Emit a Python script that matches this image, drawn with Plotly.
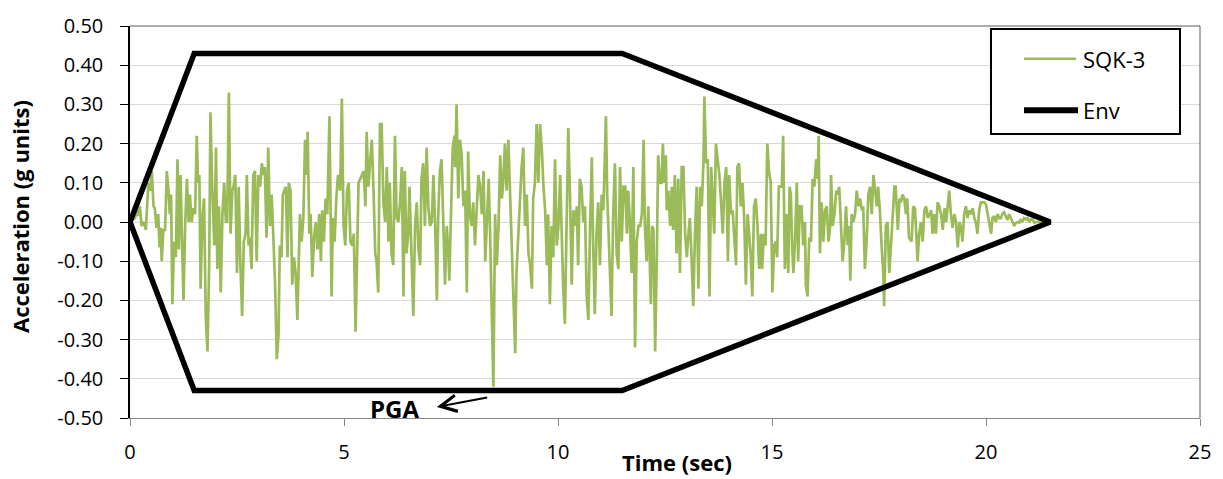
import plotly.graph_objects as go

# ---------------- data ----------------
seg1_t = [0.00,0.06,0.12,0.16,0.19,0.23,0.27,0.33,0.37,0.43,
          0.47,0.51,0.55,0.58,0.62,0.66,0.69,0.72,0.74,0.78,
          0.82,0.86,0.90,0.93,0.96,0.99,1.03,1.07,1.11,1.14,
          1.18,1.22,1.25,1.29,1.33,1.37,1.40,1.44,1.48,1.52,
          1.56,1.59,1.62,1.65,1.69,1.73,1.77,1.81,1.85,1.88,
          1.92,1.97,2.01,2.04,2.08,2.12,2.16,2.20,2.24,2.27,
          2.31,2.35,2.39,2.42,2.46,2.50,2.54,2.58,2.62,2.66,
          2.70,2.73,2.77]
seg1_a = [0.00,0.005,0.01,0.04,0.015,0.04,-0.01,0.00,-0.02,0.10,
          0.08,0.13,0.04,0.035,-0.015,0.02,-0.065,-0.015,-0.10,-0.02,
          -0.02,0.13,0.08,0.02,0.07,-0.21,-0.05,-0.09,0.16,-0.07,
          0.12,-0.07,-0.20,-0.005,0.11,0.00,0.07,0.00,0.035,0.02,
          0.22,0.10,0.12,-0.17,0.01,0.06,-0.24,-0.33,-0.11,0.28,
          0.09,-0.06,0.19,-0.12,0.04,-0.18,0.02,0.10,0.00,0.00,
          0.33,-0.03,0.08,0.09,0.12,-0.13,0.09,-0.11,-0.24,-0.05,
          -0.03,0.12,-0.06]

seg2_t = [2.80,2.84,2.88,2.92,2.96,3.00,3.04,3.08,3.12,3.15,
          3.19,3.23,3.27,3.31,3.35,3.39,3.43,3.47,3.50,3.54,
          3.57,3.61,3.64,3.68,3.71,3.75,3.79,3.83,3.87,3.91,
          3.95,3.97,4.01,4.05,4.09,4.13,4.15,4.19,4.22,4.26,
          4.30,4.34,4.38,4.42,4.46,4.49,4.53,4.57,4.61,4.66,
          4.71,4.74,4.78,4.82,4.86,4.91,4.95,4.99,5.03,5.07,
          5.11,5.15,5.19,5.23,5.27,5.31,5.34,5.38,5.42,5.46,
          5.50,5.53,5.57,5.61,5.65,5.69,5.73,5.76,5.80,5.84,
          5.88,5.92,5.96,6.00,6.04,6.07]
seg2_a = [-0.04,-0.12,0.12,0.13,-0.10,0.12,0.09,0.15,0.12,0.14,
          -0.04,0.19,-0.01,0.07,-0.04,-0.16,-0.35,-0.29,-0.06,-0.09,
          0.07,0.08,0.09,-0.09,0.10,0.08,-0.16,-0.09,-0.13,-0.25,
          -0.05,0.02,-0.05,0.01,0.21,0.12,0.23,-0.03,0.02,-0.14,
          -0.04,0.00,-0.07,0.02,-0.10,0.03,-0.05,0.06,0.02,0.27,
          -0.19,0.01,-0.05,0.06,0.12,0.08,0.315,-0.01,-0.06,0.08,
          0.10,-0.05,-0.06,-0.03,-0.28,-0.01,0.10,0.11,0.12,0.13,
          0.04,0.23,0.09,0.14,0.21,0.08,-0.08,-0.10,-0.18,0.25,
          0.25,0.05,0.00,0.14,-0.05,0.10]

seg3_t = [6.11,6.15,6.19,6.23,6.27,6.31,6.35,6.39,6.42,6.46,
          6.50,6.53,6.58,6.62,6.66,6.70,6.74,6.78,6.81,6.85,
          6.89,6.93,6.97,7.01,7.05,7.09,7.13,7.17,7.20,7.24,
          7.28,7.32,7.36,7.40,7.44,7.46,7.50,7.54,7.58,7.60,
          7.63,7.67,7.71,7.75,7.79,7.83,7.87,7.90,7.94,7.98,
          8.02,8.06,8.10,8.14,8.18,8.22,8.26,8.30,8.34,8.38,
          8.41,8.45,8.49,8.53,8.57,8.61,8.65,8.69,8.72,8.76,
          8.80,8.84,8.88,8.92,8.96,9.00,9.03,9.07,9.11]
seg3_a = [-0.08,-0.11,0.22,0.01,0.00,0.05,0.14,-0.19,0.13,-0.08,
          -0.03,0.09,-0.11,-0.24,-0.01,0.05,-0.07,-0.11,0.11,0.15,
          -0.01,0.19,0.04,-0.01,0.00,0.12,-0.01,-0.20,0.01,0.13,
          0.16,0.02,-0.16,-0.01,-0.08,-0.15,-0.01,0.19,0.22,0.14,
          0.30,0.06,0.21,0.17,0.04,0.08,-0.18,0.18,0.02,-0.01,
          0.05,-0.06,0.03,0.12,0.09,0.02,0.13,-0.10,0.00,0.11,
          -0.01,-0.21,-0.42,0.02,-0.11,-0.01,0.17,0.06,0.10,0.20,
          0.08,0.21,0.07,-0.10,-0.18,-0.335,-0.13,-0.04,0.02]

seg4_t = [9.15,9.19,9.23,9.27,9.31,9.35,9.39,9.42,9.46,9.50,
          9.54,9.58,9.62,9.66,9.70,9.74,9.77,9.81,9.85,9.89,
          9.93,9.97,10.01,10.05,10.09,10.12,10.16,10.20,10.24,10.28,
          10.32,10.36,10.40,10.44,10.47,10.51,10.55,10.59,10.63,10.67,
          10.71,10.75,10.79,10.82,10.86,10.90,10.94,10.98,11.02,11.06,
          11.10,11.12,11.15,11.18,11.21,11.25,11.29,11.33,11.37,11.41,
          11.45,11.49,11.53,11.57,11.61,11.64,11.68,11.72,11.76,11.80,
          11.84,11.88,11.92,11.96,12.00,12.03,12.07,12.11]
seg4_a = [0.14,0.19,-0.01,0.07,-0.08,-0.11,-0.17,0.06,0.10,0.25,
          0.10,0.25,0.19,0.09,0.03,-0.11,0.02,-0.21,-0.01,-0.09,
          0.16,-0.06,-0.01,0.12,-0.07,-0.16,-0.26,-0.01,0.24,0.07,
          -0.16,0.03,-0.01,0.04,-0.11,0.11,0.09,0.00,0.04,-0.19,
          -0.25,-0.01,0.165,-0.05,-0.235,-0.03,0.05,-0.11,0.07,0.03,
          0.21,0.27,0.07,-0.02,-0.11,-0.24,0.02,0.15,-0.08,-0.12,
          0.14,-0.05,0.09,0.09,-0.03,0.08,0.00,-0.13,0.14,-0.32,
          -0.05,-0.01,-0.01,0.02,0.21,-0.01,-0.10,0.04]

seg5_t = [12.17,12.20,12.23,12.27,12.31,12.34,12.38,12.42,12.45,12.48,
          12.52,12.54,12.58,12.62,12.66,12.69,12.73,12.77,12.81,12.85,
          12.89,12.93,12.97,13.01,13.04,13.08,13.12,13.16,13.20,13.24,
          13.28,13.32,13.36,13.40,13.42,13.46,13.50,13.54,13.58,13.61,
          13.65,13.69,13.73,13.77,13.81,13.85,13.89,13.93,13.97,14.00,
          14.04,14.08,14.12,14.16,14.19,14.23,14.27,14.31,14.35,14.39,
          14.43,14.46,14.50,14.54,14.58,14.62,14.66,14.70,14.74,14.77,
          14.81,14.85,14.89,14.93,14.97,15.01,15.05,15.09,15.12,15.16,
          15.19]
seg5_a = [-0.21,-0.01,-0.02,-0.33,-0.08,0.17,0.10,0.10,0.20,0.10,
          0.17,0.03,0.08,-0.01,0.09,-0.02,0.12,-0.08,0.11,-0.13,
          0.14,0.14,-0.03,-0.09,-0.04,0.01,-0.09,-0.215,-0.03,0.09,
          -0.17,0.09,0.04,0.16,0.32,0.15,0.16,-0.19,0.14,0.07,
          -0.03,0.20,0.16,0.12,0.05,-0.03,0.10,0.14,-0.10,0.12,
          0.02,0.03,-0.04,-0.11,0.14,0.15,0.04,0.10,0.01,-0.16,
          0.02,-0.03,-0.08,-0.19,0.04,0.06,-0.01,-0.12,-0.03,-0.12,
          -0.03,-0.06,0.20,0.13,0.10,-0.18,-0.06,-0.05,-0.09,0.09,
          0.09]

seg6_t = [15.23,15.26,15.30,15.34,15.38,15.41,15.44,15.47,15.50,15.54,
          15.58,15.61,15.65,15.69,15.73,15.77,15.79,15.83,15.87,15.91,
          15.95,15.99,16.03,16.07,16.09,16.12,16.16,16.20,16.24,16.28,
          16.32,16.36,16.38,16.42,16.46,16.50,16.53,16.57,16.61,16.65,
          16.69,16.73,16.77,16.80,16.83,16.86,16.90,16.94,16.98,17.02,
          17.06,17.10,17.13,17.17,17.21,17.25,17.29,17.33,17.37,17.41,
          17.45,17.48,17.52,17.56,17.60,17.62,17.66,17.70,17.74,17.78,
          17.82,17.86,17.89,17.94,17.98,18.01,18.05,18.09,18.13,18.16,
          18.20]
seg6_a = [0.09,0.22,-0.12,0.02,-0.13,0.09,0.07,-0.06,-0.13,-0.04,
          0.10,-0.10,0.04,0.04,-0.06,0.00,-0.16,-0.19,-0.04,-0.05,
          0.11,0.09,0.16,0.11,0.22,-0.08,0.05,-0.05,0.03,0.04,
          -0.05,-0.01,0.12,-0.01,0.02,0.08,0.07,0.09,0.01,-0.10,
          -0.05,0.04,-0.06,-0.01,-0.15,0.02,0.00,0.02,0.08,0.04,
          0.06,0.03,0.04,-0.12,-0.05,0.07,0.09,0.02,0.12,0.07,
          0.04,0.09,0.03,-0.06,-0.13,-0.215,-0.01,0.00,-0.13,-0.06,
          0.02,0.09,0.09,-0.02,0.06,0.05,0.07,0.06,0.02,0.06,
          -0.04]

seg7_t = [18.26,18.30,18.34,18.38,18.40,18.44,18.48,18.52,18.56,18.60,
          18.64,18.68,18.72,18.75,18.79,18.83,18.87,18.91,18.95,18.99,
          19.03,19.07,19.10,19.14,19.18,19.22,19.26,19.30,19.34,19.38,
          19.42,19.45,19.49,19.53,19.57,19.61,19.65,19.69,19.73,19.77,
          19.80,19.84,19.88,19.92,19.96,20.00,20.04,20.08,20.12,20.15,
          20.19,20.23,20.27,20.31,20.35,20.38,20.42,20.46,20.50,20.54,
          20.58,20.62,20.66,20.70,20.74,20.78,20.81,20.85,20.89,20.93,
          20.97,21.01,21.05,21.09,21.13,21.17,21.21,21.26,21.49]
seg7_a = [-0.05,0.04,0.035,-0.05,-0.10,-0.03,0.00,-0.05,0.03,0.04,
          0.01,0.02,0.03,-0.03,0.02,-0.03,0.05,0.04,0.02,-0.02,
          0.035,0.00,0.035,0.08,0.02,-0.015,0.02,0.00,-0.065,0.00,
          -0.015,-0.05,0.02,0.04,0.01,0.03,0.02,0.035,0.01,-0.005,
          -0.03,0.03,0.05,0.05,0.05,0.045,0.02,-0.005,-0.03,0.01,
          0.015,0.00,0.02,0.01,0.01,0.02,0.025,0.015,0.005,0.02,
          0.01,0.00,-0.01,-0.002,0.00,-0.002,0.007,0.00,0.01,0.007,
          0.01,0.00,0.007,0.007,-0.002,0.00,0.00,0.00,0.00]

env_t = [0.0, 1.5, 11.5, 21.5, 11.5, 1.5, 0.0]
env_a = [0.0, 0.43, 0.43, 0.0, -0.43, -0.43, 0.0]

x_tick_vals = [0, 5, 10, 15, 20, 25]
y_tick_vals = [0.5, 0.4, 0.3, 0.2, 0.1, 0.0, -0.1, -0.2, -0.3, -0.4, -0.5]
y_tick_labels = ["0.50", "0.40", "0.30", "0.20", "0.10", "0.00",
                 "-0.10", "-0.20", "-0.30", "-0.40", "-0.50"]

series_names = ["SQK-3", "Env"]

# ---------------- assemble ----------------
seg_t = [seg1_t, seg2_t, seg3_t, seg4_t, seg5_t, seg6_t, seg7_t]
seg_a = [seg1_a, seg2_a, seg3_a, seg4_a, seg5_a, seg6_a, seg7_a]
time_s, accel_g = [], []
for ts, as_ in zip(seg_t, seg_a):
    assert len(ts) == len(as_), (len(ts), len(as_))
    time_s += ts
    accel_g += as_

GREEN = "#9BBB59"
FONT = "Open Sans"

fig = go.Figure()
fig.add_trace(go.Scatter(x=time_s, y=accel_g, mode="lines", name=series_names[0],
                         line=dict(color=GREEN, width=2.7)))
fig.add_trace(go.Scatter(x=env_t, y=env_a, mode="lines", name=series_names[1],
                         line=dict(color="black", width=5.5)))

# plot area in pixels: x 130..1200, y 22..418
L, R, T, B = 130, 1200, 22, 418
def px(xp):
    return (xp - L) / (R - L)
def py(yp):
    return (B - yp) / (B - T)

shapes = [
    dict(type="line", xref="paper", yref="paper", x0=0, x1=1, y0=1, y1=1,
         line=dict(color="#595959", width=1)),
    dict(type="line", xref="paper", yref="paper", x0=1, x1=1, y0=0, y1=1,
         line=dict(color="#595959", width=1)),
    dict(type="rect", xref="paper", yref="paper", x0=px(991), x1=px(1180),
         y0=py(131), y1=py(25), line=dict(color="black", width=2),
         fillcolor="white"),
    dict(type="line", xref="paper", yref="paper", x0=px(1024), x1=px(1076),
         y0=py(55), y1=py(55), line=dict(color=GREEN, width=2.5)),
    dict(type="line", xref="paper", yref="paper", x0=px(1024), x1=px(1078),
         y0=py(107), y1=py(107), line=dict(color="black", width=6)),
]

annotations = [
    dict(text=series_names[0], xref="paper", yref="paper", x=px(1081), y=py(55),
         xanchor="left", yanchor="middle", showarrow=False,
         font=dict(family=FONT, size=22, color="black")),
    dict(text=series_names[1], xref="paper", yref="paper", x=px(1081), y=py(107),
         xanchor="left", yanchor="middle", showarrow=False,
         font=dict(family=FONT, size=22, color="black")),
    dict(text="<b>Time (sec)</b>", xref="paper", yref="paper", x=px(677), y=py(462),
         xanchor="center", yanchor="middle", showarrow=False,
         font=dict(family=FONT, size=22, color="black")),
    dict(text="<b>Acceleration (g units)</b>", xref="paper", yref="paper",
         x=px(20), y=py(215), textangle=-90, xanchor="center", yanchor="middle",
         showarrow=False, font=dict(family=FONT, size=22, color="black")),
    dict(text="<b>PGA</b>", xref="x", yref="y", x=6.17, y=-0.477,
         xanchor="center", yanchor="middle", showarrow=False,
         font=dict(family=FONT, size=24, color="black")),
    dict(text="", xref="x", yref="y", x=7.17, y=-0.472, axref="x", ayref="y",
         ax=8.38, ay=-0.447, showarrow=True, arrowhead=5, arrowsize=1.6,
         arrowwidth=2, arrowcolor="black"),
]

fig.update_layout(
    width=1223, height=479,
    margin=dict(l=L, r=1223 - R, t=T, b=479 - B),
    paper_bgcolor="white", plot_bgcolor="white",
    showlegend=False,
    font=dict(family=FONT, size=20, color="black"),
    shapes=shapes, annotations=annotations,
)
fig.update_xaxes(range=[0, 25], tickvals=x_tick_vals, ticks="outside", ticklen=7,
                 tickcolor="#868686", showline=True, linecolor="#868686", linewidth=1,
                 showgrid=False, zeroline=False, ticklabelstandoff=9,
                 tickfont=dict(family=FONT, size=20, color="black"))
fig.update_yaxes(range=[-0.5, 0.5], tickvals=y_tick_vals, ticktext=y_tick_labels,
                 ticks="outside", ticklen=8, tickcolor="black", showline=True,
                 linecolor="black", linewidth=1.5, showgrid=True, gridcolor="#D9D9D9",
                 gridwidth=1.2, zeroline=False, ticklabelstandoff=13,
                 tickfont=dict(family=FONT, size=20, color="black"))

fig.write_html("out.html")
